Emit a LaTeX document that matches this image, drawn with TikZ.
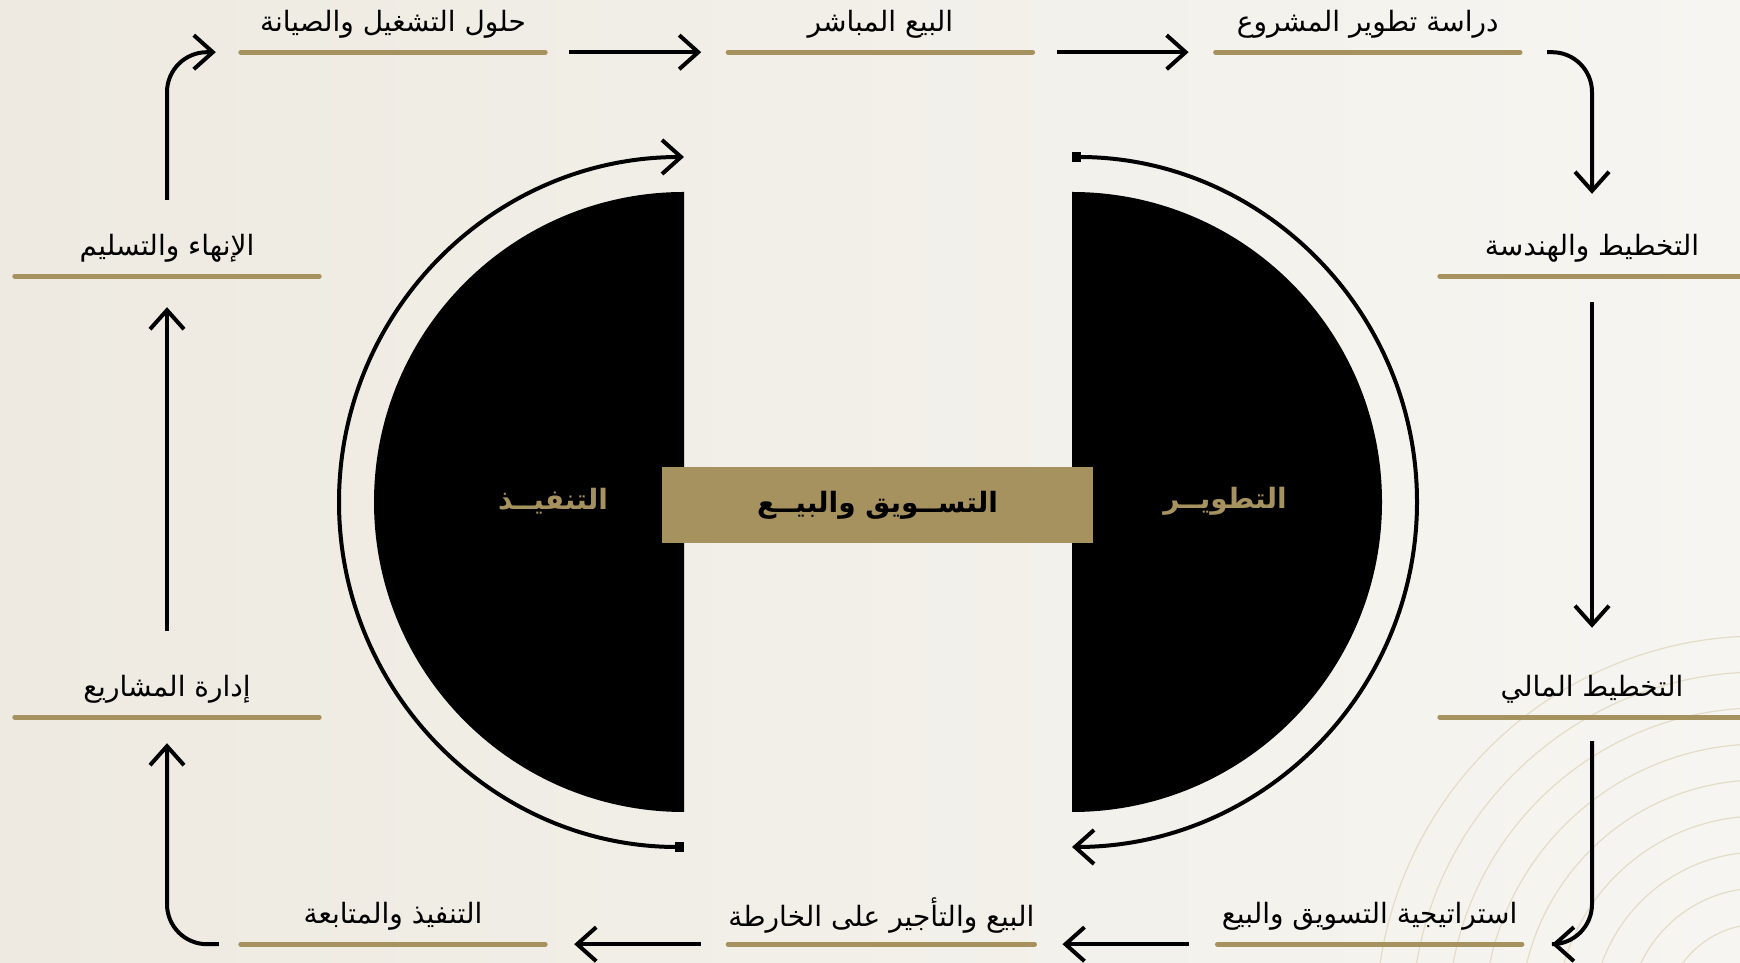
\documentclass[tikz,border=0pt]{standalone}
\usepackage{fontspec}
\newfontfamily\arabicfont[Script=Arabic]{DejaVu Sans}
\TeXXeTstate=1
\usepackage{xcolor}
\usetikzlibrary{arrows.meta,positioning,calc}
\definecolor{goldtone}{HTML}{A6925F}
\definecolor{bgleft}{HTML}{EEEAE1}
\definecolor{bgright}{HTML}{F6F5F1}
\definecolor{ringtone}{HTML}{E4DCC8}

\begin{document}
\begin{tikzpicture}[
    x=1pt, y=1pt,
    node distance=183pt,
    every node/.style={font=\arabicfont\fontsize{28}{32}\selectfont},
    stepnode/.style={minimum width=304pt, minimum height=56pt, inner sep=0pt},
    goldbar/.style={goldtone, line width=5pt, line cap=round},
    arr/.style={-{Straight Barb[length=19pt,width=34pt]}, line width=4pt, rounded corners=40pt},
    ringarr/.style={{Square[length=9pt,width=10pt]}-{Straight Barb[length=19pt,width=34pt]}, line width=4pt},
    halftext/.style={text=goldtone, font=\arabicfont\bfseries\fontsize{28}{32}\selectfont}
  ]
    \useasboundingbox (0,0) rectangle (1740,963);
    \shade[left color=bgleft, right color=bgright] (0,0) rectangle (1740,963);
    % faint rings, bottom right
    \begin{scope}
      \clip (0,0) rectangle (1740,963);
      \foreach \r in {60,96,...,384}
        \draw[ringtone, line width=1.2pt] (1760,-57) circle[radius=\r pt];
    \end{scope}

    % steps round the frame
    \node[stepnode] (s1) at (393,939) {\beginR حلول التشغيل والصيانة\endR};
    \node[stepnode, right=of s1] (s2) {\beginR البيع المباشر\endR};
    \node[stepnode, right=of s2] (s3) {\beginR دراسة تطوير المشروع\endR};
    \node[stepnode] (s4) at (1592,715) {\beginR التخطيط والهندسة\endR};
    \node[stepnode] (s5) at (1592,274) {\beginR التخطيط المالي\endR};
    \node[stepnode] (s8) at (393,47) {\beginR التنفيذ والمتابعة\endR};
    \node[stepnode, right=of s8] (s7) {\beginR البيع والتأجير على الخارطة\endR};
    \node[stepnode, right=of s7] (s6) {\beginR استراتيجية التسويق والبيع\endR};
    \node[stepnode] (s9) at (167,274) {\beginR إدارة المشاريع\endR};
    \node[stepnode] (s10) at (167,715) {\beginR الإنهاء والتسليم\endR};

    \foreach \n in {s1,s2,s3,s4,s5,s6,s7,s8,s9,s10}
      \draw[goldbar] (\n.south west) -- (\n.south east);

    \draw[arr] ([xshift=24pt]s1.south east) -- ([xshift=-27pt]s2.south west);
    \draw[arr] ([xshift=24pt]s2.south east) -- ([xshift=-27pt]s3.south west);
    \draw[arr] ([xshift=27pt]s3.south east) -| ([yshift=26pt]s4.north);
    \draw[arr] ([yshift=-26pt]s4.south) -- ([yshift=33pt]s5.north);
    \draw[arr] ([yshift=-24pt]s5.south) |- ([xshift=30pt]s6.south east);
    \draw[arr] ([xshift=-28pt]s6.south west) -- ([xshift=28pt]s7.south east);
    \draw[arr] ([xshift=-27pt]s7.south west) -- ([xshift=29pt]s8.south east);
    \draw[arr] ([xshift=-22pt]s8.south west) -| ([yshift=-26pt]s9.south);
    \draw[arr] ([yshift=30pt]s9.north) -- ([yshift=-31pt]s10.south);
    \draw[arr] ([yshift=20pt]s10.north) |- ([xshift=-25pt]s1.south west);

    % the two halves
    \coordinate (lc) at (684,461);
    \coordinate (rc) at (1072,461);
    \fill ([yshift=310pt]lc) arc[start angle=90, end angle=270, radius=310pt] -- cycle;
    \fill ([yshift=310pt]rc) arc[start angle=90, end angle=-90, radius=310pt] -- cycle;
    \draw[ringarr] ([yshift=-345pt]lc) arc[start angle=270, end angle=90, radius=345pt];
    \draw[ringarr] ([yshift=345pt]rc) arc[start angle=90, end angle=-90, radius=345pt];

    \node[halftext] (exec) at (553,462) {\beginR التنفيــذ\endR};
    \node[halftext] (dev) at (1225,462) {\beginR التطويــر\endR};
    \node[fill=goldtone, minimum width=431pt, minimum height=76pt, inner sep=0pt,
      font=\arabicfont\bfseries\fontsize{28}{32}\selectfont] (mid) at (877.5,458)
      {\beginR التســويق والبيــع\endR};
  \end{tikzpicture}
\end{document}
